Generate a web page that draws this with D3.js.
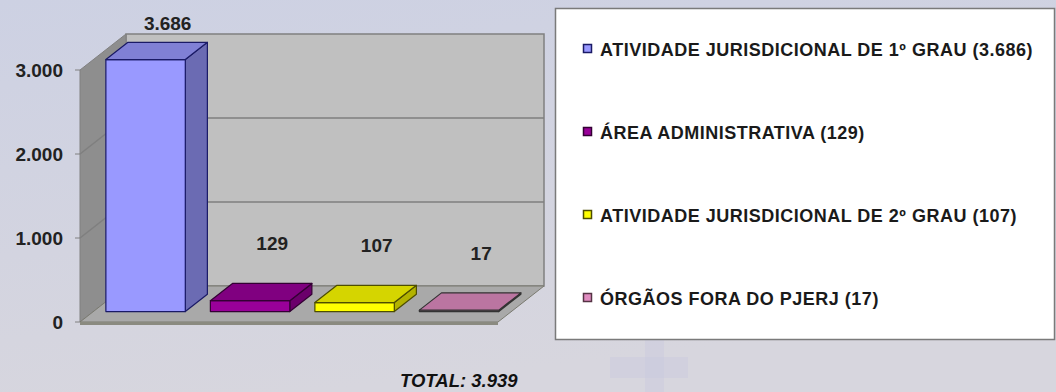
<!DOCTYPE html>
<html>
<head>
<meta charset="utf-8">
<script src="https://cdn.jsdelivr.net/npm/d3@7"></script>
<style>
  html, body { margin: 0; padding: 0; }
  body { width: 1056px; height: 392px; overflow: hidden; }
  text { font-family: "Liberation Sans", Arial, sans-serif; font-weight: bold; }
</style>
</head>
<body>
<svg id="chart" width="1056" height="392"></svg>
<script>
// data //
const categories = ["ATIVIDADE JURISDICIONAL DE 1º GRAU", "ÁREA ADMINISTRATIVA", "ATIVIDADE JURISDICIONAL DE 2º GRAU", "ÓRGÃOS FORA DO PJERJ"]
const values = [3686, 129, 107, 17]
const valueLabels = ["3.686", "129", "107", "17"]
const colors = ["#9999ff", "#990099", "#ffff00", "#e08cc0"]
const strokes = ["#1a1a66", "#330033", "#4d4d00", "#333333"]
const yTicks = [0, 1000, 2000, 3000]
const yTickLabels = ["0", "1.000", "2.000", "3.000"]
const totalLabel = "TOTAL: 3.939"

const W = 1056, H = 392
const svg = d3.select("#chart")

// background //
const defs = svg.append("defs")
const bg = defs.append("linearGradient").attr("id", "bg").attr("x1", 0).attr("y1", 0).attr("x2", 0.3).attr("y2", 1)
bg.append("stop").attr("offset", "0%").attr("stop-color", "#cdd1e3")
bg.append("stop").attr("offset", "100%").attr("stop-color", "#d7d6de")
svg.append("rect").attr("width", W).attr("height", H).attr("fill", "url(#bg)")

// faint cross watermark
svg.append("rect").attr("x", 610).attr("y", 357).attr("width", 78).attr("height", 21).attr("fill", "#c8c8df").attr("opacity", 0.4)
svg.append("rect").attr("x", 645).attr("y", 340).attr("width", 19).attr("height", 52).attr("fill", "#c8c8df").attr("opacity", 0.4)

// 3d projection //
const DX = 46, DY = 36
const x = d3.scaleBand().domain(categories).range([80, 498]).paddingInner(0.24).paddingOuter(0.12)
const y = d3.scaleLinear().domain([0, 3000]).range([322, 70])
const x0 = x.range()[0], x1 = x.range()[1]
const yMax = y.domain()[1]

function P(px, py, z) { return [px + z * DX, py - z * DY] }
function poly(pts) { return "M" + pts.map(p => p.join(",")).join("L") + "Z" }

const plot = svg.append("g")

// back wall
plot.append("path")
    .attr("d", poly([P(x0, y(0), 1), P(x1, y(0), 1), P(x1, y(yMax), 1), P(x0, y(yMax), 1)]))
    .attr("fill", "#c0c0c0").attr("stroke", "#808080").attr("stroke-width", 1.5)

// left wall
plot.append("path")
    .attr("d", poly([P(x0, y(0), 0), P(x0, y(0), 1), P(x0, y(yMax), 1), P(x0, y(yMax), 0)]))
    .attr("fill", "#8e8e8e").attr("stroke", "#808080").attr("stroke-width", 1)

// floor
plot.append("path")
    .attr("d", poly([P(x0, y(0), 0), P(x1, y(0), 0), P(x1, y(0), 1), P(x0, y(0), 1)]))
    .attr("fill", "#a9a9a9").attr("stroke", "#7a7a70").attr("stroke-width", 1)
plot.append("path")
    .attr("d", poly([P(x0, y(0), 0), P(x1, y(0), 0), [x1, y(0) + 3], [x0, y(0) + 3]]))
    .attr("fill", "#8a8a80")

// gridlines
yTicks.filter(t => t > 0 && t < yMax).forEach(t => {
    plot.append("path")
        .attr("d", "M" + [P(x0, y(t), 0), P(x0, y(t), 1), P(x1, y(t), 1)].map(p => p.join(",")).join("L"))
        .attr("fill", "none").attr("stroke", "#7f7f7f").attr("stroke-width", 1.5)
})

// axis ticks + labels
const axis = svg.append("g")
yTicks.forEach((t, i) => {
    axis.append("line")
        .attr("x1", x0 - 5).attr("x2", x0).attr("y1", y(t)).attr("y2", y(t))
        .attr("stroke", "#808080").attr("stroke-width", 1)
    axis.append("text")
        .attr("x", x0 - 17).attr("y", y(t) + 6.5)
        .attr("text-anchor", "end").attr("font-size", 19).attr("fill", "#222")
        .text(yTickLabels[i])
})

// bars
const zf = 0.29, zb = 0.77
categories.forEach((c, i) => {
    const bx0 = x(c), bx1 = x(c) + x.bandwidth()
    const yb = y(0), yt = y(Math.min(values[i], yMax))
    const col = d3.color(colors[i])
    const g = plot.append("g").attr("stroke", strokes[i]).attr("stroke-width", 1.2).attr("stroke-linejoin", "round")
    g.append("path")
        .attr("d", poly([P(bx1, yb, zf), P(bx1, yb, zb), P(bx1, yt, zb), P(bx1, yt, zf)]))
        .attr("fill", col.darker(1))
    g.append("path")
        .attr("d", poly([P(bx0, yb, zf), P(bx1, yb, zf), P(bx1, yt, zf), P(bx0, yt, zf)]))
        .attr("fill", col)
    g.append("path")
        .attr("d", poly([P(bx0, yt, zf), P(bx1, yt, zf), P(bx1, yt, zb), P(bx0, yt, zb)]))
        .attr("fill", col.darker(0.5))

    const lp = P(bx0 + x.bandwidth() / 2, y(values[i]), zb)
    svg.append("text")
        .attr("x", lp[0]).attr("y", Math.max(30, lp[1] - 33))
        .attr("text-anchor", "middle").attr("font-size", 19).attr("fill", "#222")
        .text(valueLabels[i])
})

// legend //
const legend = svg.append("g")
legend.append("rect")
    .attr("x", 555.5).attr("y", 8.5).attr("width", 499).attr("height", 331)
    .attr("fill", "#ffffff").attr("stroke", "#7a7a7a").attr("stroke-width", 1.5)

const ly = d3.scalePoint().domain(categories).range([49, 298])
categories.forEach((c, i) => {
    legend.append("rect")
        .attr("x", 583.5).attr("y", ly(c) - 4.5).attr("width", 8).attr("height", 8)
        .attr("fill", colors[i]).attr("stroke", strokes[i] === "#333333" ? "#553344" : strokes[i]).attr("stroke-width", 1.5)
    legend.append("text")
        .attr("x", 600).attr("y", ly(c) + 6.5)
        .attr("font-size", 18).attr("letter-spacing", 0.5).attr("fill", "#1a1a1a")
        .text(c + " (" + valueLabels[i] + ")")
})

// total //
svg.append("text")
    .attr("x", 400).attr("y", 387)
    .attr("font-size", 18.5).attr("font-style", "italic").attr("fill", "#111")
    .text(totalLabel)
</script>
</body>
</html>
